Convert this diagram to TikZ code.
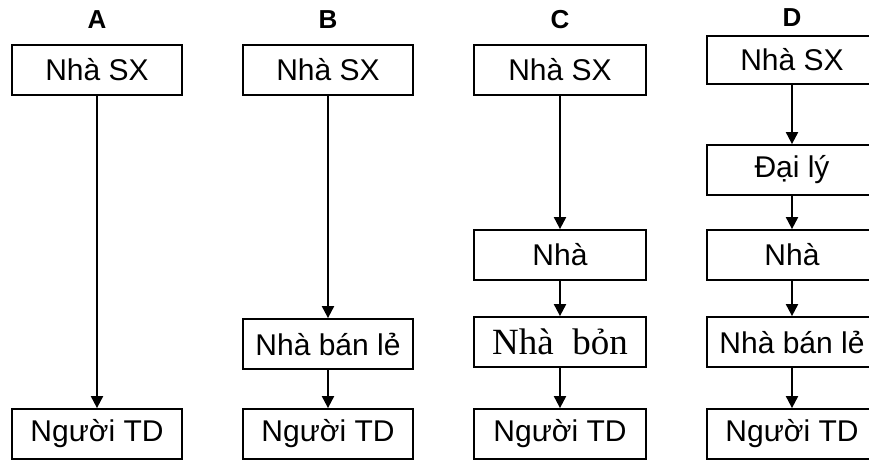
\documentclass[tikz,border=0pt]{standalone}
\usepackage{fontspec}
\setmainfont{Liberation Sans}
\newfontfamily\serifvn{Liberation Serif}
\usetikzlibrary{arrows,arrows.meta,positioning}
\tikzset{kenh/.style={draw, line width=1.8pt, minimum width=170pt, minimum height=50pt,
		inner sep=0pt, font=\fontsize{30}{33}\selectfont}}
\tikzset{nhan/.style={inner sep=0pt, font=\fontsize{26}{30}\selectfont\bfseries}}
\tikzset{muiten/.style={-{Triangle[width=12pt,length=12pt]}, line width=2pt}}
\begin{document}
\begin{tikzpicture}[x=1pt, y=-1pt]
			\useasboundingbox (0,0) rectangle (869,459);

			% kenh A
			\node[nhan] (la) at (97,20) {A};
			\node[kenh] (a1) at (97,70) {Nhà SX};
			\node[kenh] (a2) at (97,434) {Người TD};

			% kenh B
			\node[nhan] (lb) at (328,20) {B};
			\node[kenh] (b1) at (328,70) {Nhà SX};
			\node[kenh] (b2) at (328,344) {Nhà bán lẻ};
			\node[kenh] (b3) at (328,434) {Người TD};

			% kenh C
			\node[nhan] (lc) at (560,20) {C};
			\node[kenh, minimum width=172pt] (c1) at (560,70) {Nhà SX};
			\node[kenh, minimum width=172pt] (c2) at (560,255) {Nhà};
			\node[kenh, minimum width=172pt, font=\serifvn\fontsize{37}{40}\selectfont] (c3) at (560,342) {Nhà~ bỏn};
			\node[kenh, minimum width=172pt] (c4) at (560,434) {Người TD};

			% kenh D
			\node[nhan] (ld) at (792,18) {D};
			\node[kenh, minimum height=48pt] (d1) at (792,60) {Nhà SX};
			\node[kenh] (d2) at (792,170) {Đại lý};
			\node[kenh] (d3) at (792,255) {Nhà};
			\node[kenh] (d4) at (792,342) {Nhà bán lẻ};
			\node[kenh] (d5) at (792,434) {Người TD};

			\draw[muiten] (a1) -- (a2);
			\draw[muiten] (b1) -- (b2);
			\draw[muiten] (b2) -- (b3);
			\foreach \i/\j in {1/2,2/3,3/4} \draw[muiten] (c\i) -- (c\j);
			\foreach \i/\j in {1/2,2/3,3/4,4/5} \draw[muiten] (d\i) -- (d\j);
\end{tikzpicture}
\end{document}
